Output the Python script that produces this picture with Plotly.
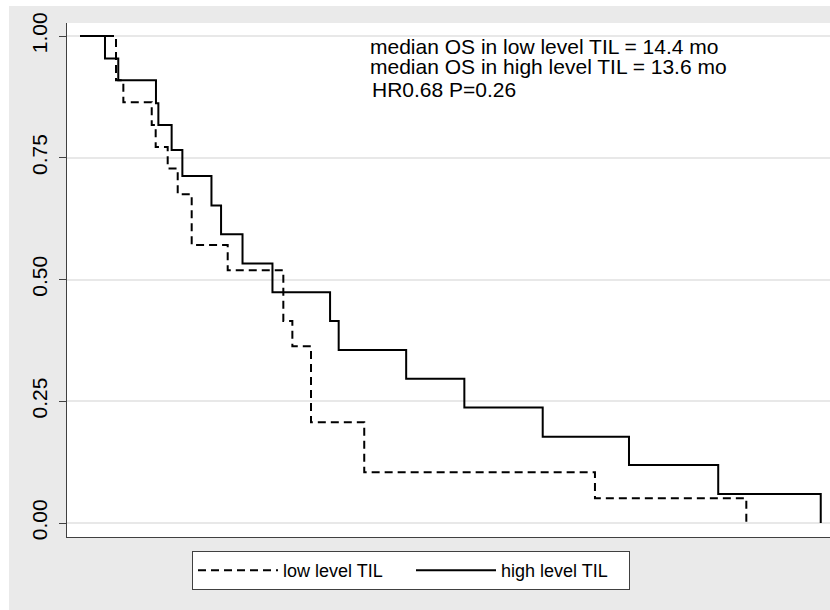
import plotly.graph_objects as go

# Kaplan-Meier step data (time in months, survival probability)
low_times = [0, 2.55, 3.07, 5.08, 5.36, 6.21, 6.92, 7.91, 10.46, 14.40, 15.04, 16.36, 20.13, 36.47, 47.19]
low_surv = [1.0, 0.909, 0.864, 0.817, 0.772, 0.728, 0.675, 0.571, 0.519, 0.415, 0.363, 0.207, 0.104, 0.051, 0.0]

high_times = [0, 1.77, 2.71, 5.38, 5.55, 6.49, 7.25, 9.31, 9.99, 11.51, 13.63, 17.71, 18.32, 23.10, 27.22, 32.77, 38.88, 45.20, 52.46]
high_surv = [1.0, 0.954, 0.909, 0.862, 0.817, 0.766, 0.7125, 0.652, 0.593, 0.533, 0.474, 0.415, 0.355, 0.296, 0.237, 0.177, 0.119, 0.0595, 0.0]

series_names = ["low level TIL", "high level TIL"]
y_ticks = [0.0, 0.25, 0.5, 0.75, 1.0]
y_ticklabels = ["0.00", "0.25", "0.50", "0.75", "1.00"]
annotation_lines = [
    "median OS in low level TIL = 14.4 mo",
    "median OS in high level TIL = 13.6 mo",
    "HR0.68 P=0.26",
]

W, H = 830, 610
ML, MR, MT, MB = 67, 0, 23, 73
PW, PH = W - ML - MR, H - MT - MB

def px(xp):
    return (xp - ML) / PW

def py(yp):
    return (H - MB - yp) / PH

FONT = "Liberation Sans, Arial, Helvetica, sans-serif"

fig = go.Figure()
fig.add_trace(go.Scatter(
    x=low_times, y=low_surv, mode="lines", line_shape="hv",
    name=series_names[0],
    line=dict(color="black", width=2, dash="8px,5px"),
))
fig.add_trace(go.Scatter(
    x=high_times, y=high_surv, mode="lines", line_shape="hv",
    name=series_names[1],
    line=dict(color="black", width=2),
))

shapes = [
    # white outer strips (left and top)
    dict(type="rect", xref="paper", yref="paper", x0=px(0), x1=px(9), y0=py(H), y1=py(0),
         fillcolor="white", line=dict(width=0), layer="above"),
    dict(type="rect", xref="paper", yref="paper", x0=px(0), x1=px(W + 5), y0=py(6), y1=py(0),
         fillcolor="white", line=dict(width=0), layer="above"),
]

annotations = []
ann_pos = [(369, 47), (369, 66), (371, 89)]
for txt, (ax, ay) in zip(annotation_lines, ann_pos):
    annotations.append(dict(
        text=txt, xref="paper", yref="paper", x=px(ax), y=py(ay),
        xanchor="left", yanchor="middle", showarrow=False, borderpad=0,
        font=dict(family=FONT, size=21, color="black"),
    ))

fig.update_layout(
    width=W, height=H,
    margin=dict(l=ML, r=MR, t=MT, b=MB, pad=0),
    paper_bgcolor="#EAEAEA",
    plot_bgcolor="white",
    font=dict(family=FONT, color="black"),
    shapes=shapes,
    annotations=annotations,
    showlegend=True,
    legend=dict(
        orientation="h", x=px(411), xanchor="center", y=py(551), yanchor="top",
        bgcolor="white", bordercolor="#404040", borderwidth=1,
        font=dict(family=FONT, size=18, color="black"),
        itemwidth=80, entrywidth=123, tracegroupgap=0,
    ),
    xaxis=dict(
        range=[(ML - 80) / 14.12, (W - 80) / 14.12],
        showticklabels=False, ticks="", showgrid=False, zeroline=False,
        showline=True, linecolor="#404040", linewidth=1.2, mirror=False,
    ),
    yaxis=dict(
        range=[-14 / 487, 1 + 13 / 487],
        tickvals=y_ticks, ticktext=y_ticklabels, tickangle=-90,
        ticks="outside", ticklen=7, tickcolor="#404040", tickwidth=1,
        tickfont=dict(family=FONT, size=21, color="black"),
        showgrid=True, gridcolor="#E8E8E8", gridwidth=1.5,
        zeroline=False, showline=True, linecolor="#404040", linewidth=1.2,
        ticklabelstandoff=4,
    ),
)

fig.write_html("out.html")
